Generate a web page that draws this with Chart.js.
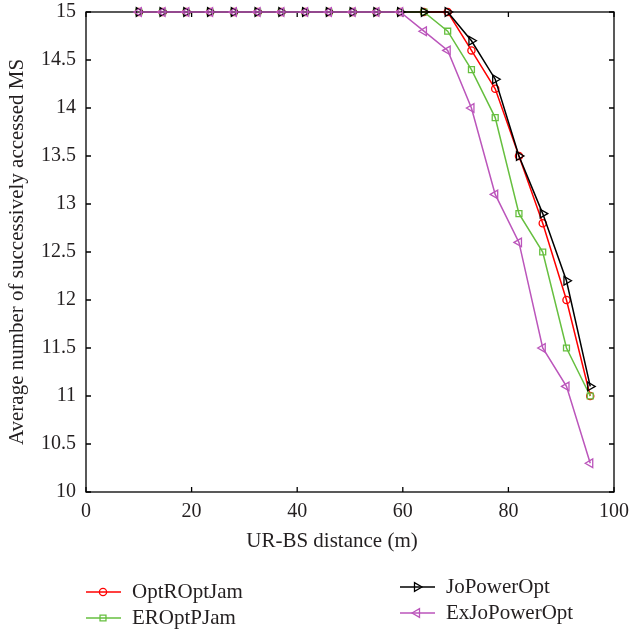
<!DOCTYPE html>
<html>
<head>
<meta charset="utf-8">
<title>MS access vs UR-BS distance</title>
<script src="https://cdn.jsdelivr.net/npm/chart.js@4/dist/chart.umd.min.js"></script>
<style>
  html, body { margin: 0; padding: 0; background: #fff; }
  canvas { display: block; }
</style>
</head>
<body>
<canvas id="grafico" width="629" height="633"></canvas>
<script>
// UR-BS distance (m)
const distancia = [10, 14.5, 19, 23.5, 28, 32.5, 37, 41.5, 46, 50.5, 55, 59.5, 64, 68.5, 73, 77.5, 82, 86.5, 91, 95.5];

// average number of successively accessed MS per scheme
const optROptJam = [15, 15, 15, 15, 15, 15, 15, 15, 15, 15, 15, 15, 15, 15, 14.6, 14.2, 13.5, 12.8, 12.0, 11.0];
const erOptPJam = [15, 15, 15, 15, 15, 15, 15, 15, 15, 15, 15, 15, 15, 14.8, 14.4, 13.9, 12.9, 12.5, 11.5, 11.0];
const joPowerOpt = [15, 15, 15, 15, 15, 15, 15, 15, 15, 15, 15, 15, 15, 15, 14.7, 14.3, 13.5, 12.9, 12.2, 11.1];
const exJoPowerOpt = [15, 15, 15, 15, 15, 15, 15, 15, 15, 15, 15, 15, 14.8, 14.6, 14.0, 13.1, 12.6, 11.5, 11.1, 10.3];

const nombres = ["OptROptJam", "EROptPJam", "JoPowerOpt", "ExJoPowerOpt"];
const yTicks = [10, 10.5, 11, 11.5, 12, 12.5, 13, 13.5, 14, 14.5, 15];
const xTicks = [0, 20, 40, 60, 80, 100];

const fuente = "'Liberation Serif', 'Times New Roman', serif";
const colorTexto = "#231f20";

function serie(nombre, valores, color, estilo, radio, rotacion, orden) {
  return {
    label: nombre,
    data: distancia.map((d, i) => ({ x: d, y: valores[i] })),
    borderColor: color,
    backgroundColor: "rgba(0,0,0,0)",
    borderWidth: 1.5,
    pointStyle: estilo,
    pointRadius: radio,
    pointRotation: rotacion,
    pointBorderWidth: 1.3,
    pointBorderColor: color,
    pointBackgroundColor: "rgba(0,0,0,0)",
    tension: 0,
    clip: false,
    order: orden,
  };
}

// box around the plot with inward ticks on all four sides
const marcoConTicks = {
  id: "marcoConTicks",
  beforeDatasetsDraw(chart) {
    const { ctx, chartArea: a, scales } = chart;
    const largo = 5;
    ctx.save();
    ctx.strokeStyle = "#000";
    ctx.lineWidth = 1.3;
    ctx.strokeRect(a.left, a.top, a.right - a.left, a.bottom - a.top);
    ctx.beginPath();
    xTicks.forEach((v) => {
      const px = scales.x.getPixelForValue(v);
      ctx.moveTo(px, a.bottom);
      ctx.lineTo(px, a.bottom - largo);
      ctx.moveTo(px, a.top);
      ctx.lineTo(px, a.top + largo);
    });
    yTicks.forEach((v) => {
      const py = scales.y.getPixelForValue(v);
      ctx.moveTo(a.left, py);
      ctx.lineTo(a.left + largo, py);
      ctx.moveTo(a.right, py);
      ctx.lineTo(a.right - largo, py);
    });
    ctx.stroke();
    ctx.restore();
  },
};

function dibujarMarcador(ctx, ds, x, y) {
  const opts = {
    pointStyle: ds.pointStyle,
    radius: ds.pointRadius,
    rotation: ds.pointRotation,
    borderWidth: ds.pointBorderWidth,
  };
  ctx.fillStyle = "rgba(0,0,0,0)";
  ctx.strokeStyle = ds.borderColor;
  ctx.lineWidth = ds.pointBorderWidth;
  Chart.helpers.drawPoint(ctx, opts, x, y);
}

// x title and the two-column legend under the axes
const leyendaAbajo = {
  id: "leyendaAbajo",
  afterDraw(chart) {
    const { ctx, chartArea: a } = chart;
    ctx.save();
    ctx.fillStyle = colorTexto;
    ctx.font = "21px " + fuente;
    ctx.textAlign = "center";
    ctx.textBaseline = "middle";
    ctx.fillText("UR-BS distance (m)", (a.left + a.right) / 2 - 18, 541);

    const celdas = [[86, 592], [86, 618], [400, 587], [400, 613]];
    chart.data.datasets.forEach((ds, i) => {
      const [x0, y0] = celdas[i];
      ctx.strokeStyle = ds.borderColor;
      ctx.lineWidth = 1.5;
      ctx.beginPath();
      ctx.moveTo(x0, y0);
      ctx.lineTo(x0 + 35, y0);
      ctx.stroke();
      dibujarMarcador(ctx, ds, x0 + 17, y0);
      ctx.fillStyle = colorTexto;
      ctx.textAlign = "left";
      ctx.fillText(ds.label, x0 + 46, y0);
    });
    ctx.restore();
  },
};

const ctx = document.getElementById("grafico").getContext("2d");
new Chart(ctx, {
  type: "line",
  data: {
    datasets: [
      serie(nombres[0], optROptJam, "#ff0000", "circle", 3.6, 0, 3),
      serie(nombres[1], erOptPJam, "#66bf3f", "rect", 4.2, 0, 2),
      serie(nombres[2], joPowerOpt, "#000000", "triangle", 5, 90, 1),
      serie(nombres[3], exJoPowerOpt, "#bb55bb", "triangle", 5, -90, 0),
    ],
  },
  options: {
    responsive: false,
    animation: false,
    layout: { padding: { top: 12, right: 15, bottom: 79, left: 0 } },
    plugins: {
      legend: { display: false },
      tooltip: { enabled: false },
    },
    scales: {
      x: {
        type: "linear",
        min: 0,
        max: 100,
        afterBuildTicks: (s) => { s.ticks = xTicks.map((v) => ({ value: v })); },
        ticks: { padding: 8, color: colorTexto, font: { family: fuente, size: 20 }, maxRotation: 0, callback: (v) => String(v) },
        grid: { display: false, drawTicks: false },
        border: { display: false },
        afterFit: (s) => {
          s.height = 62;
          s.paddingLeft = 0;
          s.paddingRight = 0;
        },
      },
      y: {
        min: 10,
        max: 15,
        afterBuildTicks: (s) => { s.ticks = yTicks.map((v) => ({ value: v })); },
        ticks: { padding: 10, color: colorTexto, font: { family: fuente, size: 20 }, callback: (v) => String(v) },
        grid: { display: false, drawTicks: false },
        border: { display: false },
        title: {
          display: true,
          text: "Average number of successively accessed MS",
          color: colorTexto,
          font: { family: fuente, size: 21 },
          padding: { top: 5, bottom: 0 },
        },
        afterFit: (s) => {
          s.width = 86;
          s.paddingTop = 0;
          s.paddingBottom = 0;
        },
      },
    },
  },
  plugins: [marcoConTicks, leyendaAbajo],
});
</script>
</body>
</html>
